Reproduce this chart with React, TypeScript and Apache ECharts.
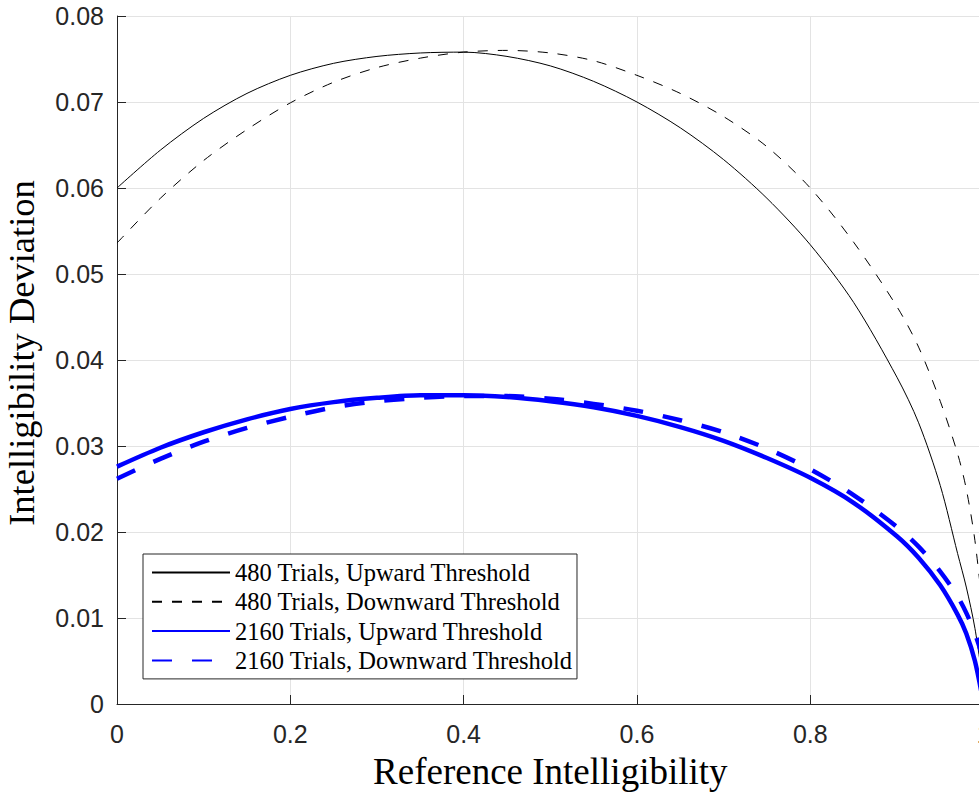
import React, { useEffect, useRef } from "react";
import * as echarts from "echarts";

const X_VALUES = [0, 0.05, 0.1, 0.15, 0.2, 0.25, 0.3, 0.35, 0.4, 0.45, 0.5, 0.55, 0.6, 0.65, 0.7, 0.75, 0.8, 0.85, 0.9, 0.925, 0.95, 0.97, 0.98, 0.99, 1.0];

const UP_480 = [0.0600, 0.0644, 0.0681, 0.0710, 0.0731, 0.0745, 0.0753, 0.0757, 0.0758, 0.0753, 0.0742, 0.0724, 0.0700, 0.0670, 0.0633, 0.0588, 0.0534, 0.0467, 0.0380, 0.0327, 0.0254, 0.0175, 0.0136, 0.0088, 0.0020];
const DOWN_480 = [0.0536, 0.0588, 0.0632, 0.0668, 0.0699, 0.0723, 0.0740, 0.0751, 0.0758, 0.0760, 0.0757, 0.0748, 0.0731, 0.0710, 0.0683, 0.0648, 0.0600, 0.0537, 0.0462, 0.0415, 0.0352, 0.0291, 0.0250, 0.0190, 0.0100];
const UP_2160 = [0.0276, 0.0298, 0.0316, 0.0331, 0.0343, 0.0351, 0.0356, 0.0359, 0.0359, 0.0357, 0.0352, 0.0345, 0.0335, 0.0322, 0.0306, 0.0286, 0.0263, 0.0234, 0.0195, 0.0170, 0.0138, 0.0104, 0.0082, 0.0050, 0.0];
const DOWN_2160 = [0.0262, 0.0285, 0.0305, 0.0321, 0.0334, 0.0345, 0.0352, 0.0356, 0.0358, 0.0358, 0.0355, 0.0349, 0.0341, 0.0330, 0.0316, 0.0297, 0.0273, 0.0243, 0.0206, 0.0183, 0.0154, 0.0125, 0.0106, 0.0082, 0.0052];

const SERIES_NAMES = [
  "480 Trials, Upward Threshold",
  "480 Trials, Downward Threshold",
  "2160 Trials, Upward Threshold",
  "2160 Trials, Downward Threshold",
];

const X_TITLE = "Reference Intelligibility";
const Y_TITLE = "Intelligibility Deviation";

const AXIS_COLOR = "#262626";
const GRID_COLOR = "#e3e3e3";

export default function App() {
  const ref = useRef<HTMLDivElement>(null);

  useEffect(() => {
    if (!ref.current) return;
    const chart = echarts.init(ref.current, undefined, { renderer: "svg" });
    const pairs = (ys: number[]) => X_VALUES.map((x, i) => [x, ys[i]]);
    const styles = [
      { color: "#000000", width: 1, type: "solid" as any },
      { color: "#000000", width: 1, type: [10, 10] as any },
      { color: "#0000ff", width: 4.5, type: "solid" as any },
      { color: "#0000ff", width: 4.5, type: [20, 20] as any },
    ];
    const datasets = [UP_480, DOWN_480, UP_2160, DOWN_2160];

    chart.setOption({
      animation: false,
      backgroundColor: "#ffffff",
      grid: {
        left: 117,
        top: 16,
        right: 6.4,
        bottom: 88,
        containLabel: false,
        outerBoundsMode: "none",
      },
      xAxis: {
        type: "value",
        min: 0,
        max: 1,
        interval: 0.2,
        name: X_TITLE,
        nameLocation: "middle",
        nameGap: 49,
        nameTextStyle: { fontFamily: "Liberation Serif", fontSize: 37, color: "#000" },
        axisLine: { show: true, onZero: false, lineStyle: { color: AXIS_COLOR, width: 1 } },
        axisTick: { show: true, inside: true, length: 9, lineStyle: { color: AXIS_COLOR } },
        axisLabel: { margin: 17, fontFamily: "Liberation Sans", fontSize: 25, color: AXIS_COLOR },
        splitLine: { show: true, lineStyle: { color: GRID_COLOR, width: 1 } },
      },
      yAxis: {
        type: "value",
        min: 0,
        max: 0.08,
        interval: 0.01,
        name: Y_TITLE,
        nameLocation: "middle",
        nameGap: 77,
        nameTextStyle: {
          fontFamily: "Liberation Serif",
          fontSize: 36.5,
          color: "#000",
          padding: [0, 0, 0, 14],
        },
        axisLine: { show: true, onZero: false, lineStyle: { color: AXIS_COLOR, width: 1 } },
        axisTick: { show: true, inside: true, length: 9, lineStyle: { color: AXIS_COLOR } },
        axisLabel: { margin: 13, fontFamily: "Liberation Sans", fontSize: 25, color: AXIS_COLOR },
        splitLine: { show: true, lineStyle: { color: GRID_COLOR, width: 1 } },
      },
      legend: {
        orient: "vertical",
        left: 143,
        top: 554,
        padding: [6, 4, 6, 8],
        itemWidth: 78,
        itemHeight: 20,
        itemGap: 4.3,
        borderColor: AXIS_COLOR,
        borderWidth: 1,
        backgroundColor: "#ffffff",
        itemStyle: { color: "rgba(0,0,0,0)", borderWidth: 0, opacity: 0 },
        textStyle: { fontFamily: "Liberation Serif", fontSize: 24.5, color: "#000", lineHeight: 24 },
        data: SERIES_NAMES,
      },
      series: datasets.map((ys, i) => ({
        type: "line",
        name: SERIES_NAMES[i],
        data: pairs(ys),
        symbol: "none",
        showSymbol: false,
        smooth: 0.3,
        clip: true,
        lineStyle: styles[i],
        itemStyle: { color: styles[i].color },
        emphasis: { disabled: true },
        z: 2 + i,
      })),
    });

    return () => chart.dispose();
  }, []);

  return (
    <div
      style={{
        position: "fixed",
        left: 0,
        top: 0,
        width: 979,
        height: 792,
        overflow: "hidden",
        background: "#fff",
      }}
    >
      <div ref={ref} style={{ width: 990, height: 792 }} />
    </div>
  );
}
